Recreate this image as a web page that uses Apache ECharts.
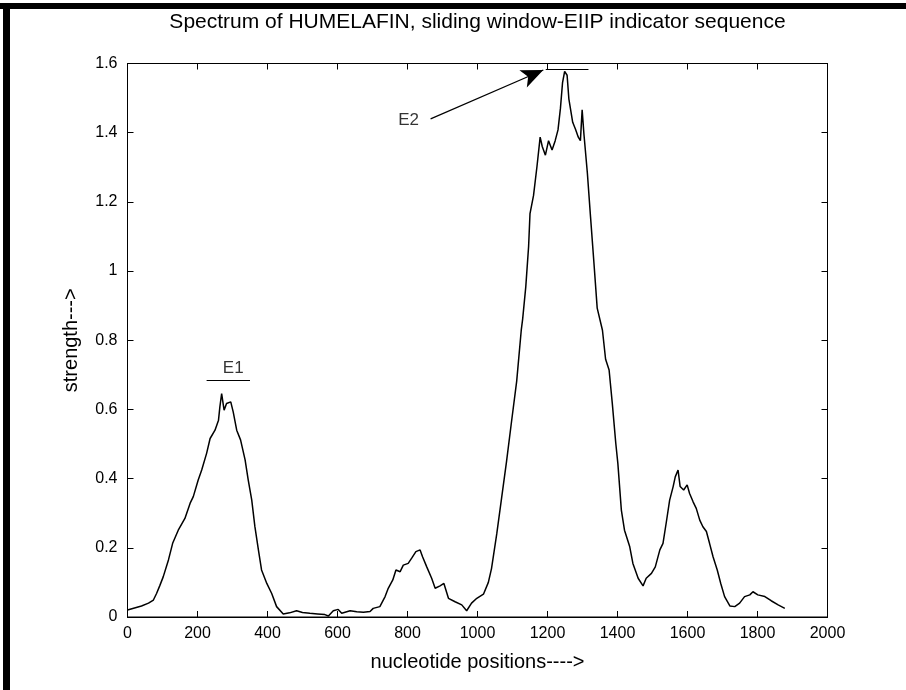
<!DOCTYPE html>
<html>
<head>
<meta charset="utf-8">
<script src="https://cdn.jsdelivr.net/npm/echarts@6/dist/echarts.min.js"></script>
<style>
html,body{margin:0;padding:0;background:#fff;}
#c{width:906px;height:690px;}
</style>
</head>
<body>
<div id="c"></div>
<script>
const positions = [0,20,40,60,74,83,92,102,117,129,145,164,179,188,202,212,226,236,250,260,264,269,276,283,295,302,312,323,336,345,355,364,374,383,398,412,426,445,463,483,500,521,543,564,574,588,602,612,636,655,674,693,702,721,736,745,758,767,779,788,802,812,824,836,843,855,869,879,893,904,917,936,955,969,983,998,1017,1031,1040,1055,1069,1083,1096,1112,1125,1129,1138,1146,1150,1160,1170,1179,1185,1194,1203,1213,1222,1230,1237,1243,1249,1256,1261,1266,1272,1280,1288,1294,1299,1304,1314,1323,1333,1342,1357,1366,1376,1385,1395,1401,1411,1420,1435,1444,1459,1473,1482,1497,1508,1521,1530,1539,1549,1559,1565,1573,1579,1589,1599,1606,1616,1625,1635,1644,1654,1663,1673,1685,1695,1706,1721,1735,1749,1763,1778,1787,1801,1821,1839,1859,1878];
const strength = [0.02,0.026,0.032,0.04,0.049,0.068,0.09,0.116,0.165,0.213,0.251,0.285,0.329,0.348,0.396,0.425,0.473,0.516,0.54,0.569,0.608,0.646,0.598,0.617,0.622,0.593,0.54,0.512,0.454,0.396,0.338,0.261,0.194,0.136,0.097,0.068,0.03,0.009,0.012,0.018,0.013,0.011,0.009,0.007,0.003,0.018,0.022,0.011,0.018,0.015,0.014,0.016,0.025,0.03,0.059,0.083,0.107,0.136,0.131,0.15,0.155,0.17,0.189,0.194,0.174,0.145,0.112,0.083,0.09,0.097,0.054,0.044,0.035,0.018,0.04,0.054,0.066,0.1,0.14,0.24,0.345,0.45,0.555,0.682,0.829,0.861,0.955,1.071,1.166,1.218,1.303,1.387,1.36,1.335,1.377,1.35,1.377,1.408,1.471,1.545,1.577,1.566,1.498,1.5,1.43,1.41,1.387,1.377,1.466,1.397,1.282,1.156,1.019,0.893,0.829,0.745,0.714,0.619,0.503,0.444,0.309,0.251,0.203,0.155,0.112,0.09,0.112,0.126,0.145,0.194,0.213,0.271,0.338,0.377,0.405,0.425,0.377,0.367,0.382,0.357,0.333,0.314,0.28,0.261,0.247,0.213,0.174,0.136,0.097,0.059,0.032,0.03,0.04,0.059,0.064,0.073,0.064,0.059,0.047,0.035,0.025];

const titleText = 'Spectrum of HUMELAFIN, sliding window-EIIP indicator sequence';
const xName = 'nucleotide positions---->';
const yName = 'strength--->';
const labels = ['E1','E2'];
const labelPos = [[302,0.719],[803,1.436]];
const e1Bar = [[226,0.685],[350,0.685]];
const e2Bar = [[1195,1.583],[1317,1.583]];
const e2Arrow = [[866,1.44],[1188,1.581]];

const FONT = 'Liberation Sans';
const chart = echarts.init(document.getElementById('c'), null, {renderer:'canvas'});
function axLine(){ return {show:true, onZero:false, lineStyle:{color:'#000', width:1}}; }
function axTick(){ return {show:true, inside:true, length:6, lineStyle:{color:'#000', width:1}}; }
function lbl(m){ return {show:true, margin:m, color:'#000', fontFamily:FONT, fontSize:16, formatter:v=>String(+v.toFixed(2))}; }
chart.setOption({
  backgroundColor:'#fff',
  animation:false,
  grid:{left:127.5, right:78.5, top:63.5, bottom:73, show:true, borderColor:'#000', borderWidth:1, backgroundColor:'transparent'},
  xAxis:[
    {type:'value', gridIndex:0, min:0, max:2000, interval:200, position:'bottom', axisLine:axLine(), axisTick:axTick(), splitLine:{show:false},
     axisLabel:lbl(9), name:xName, nameLocation:'middle', nameGap:35,
     nameTextStyle:{fontFamily:FONT, fontSize:20, color:'#000'}},
    {type:'value', gridIndex:0, min:0, max:2000, interval:200, position:'top', axisLine:axLine(), axisTick:axTick(), splitLine:{show:false}, axisLabel:{show:false}}
  ],
  yAxis:[
    {type:'value', gridIndex:0, min:0, max:1.6, interval:0.2, position:'left', axisLine:axLine(), axisTick:axTick(), splitLine:{show:false},
     axisLabel:lbl(10), name:yName, nameLocation:'middle', nameGap:46,
     nameTextStyle:{fontFamily:FONT, fontSize:20, color:'#000'}},
    {type:'value', gridIndex:0, min:0, max:1.6, interval:0.2, position:'right', axisLine:axLine(), axisTick:axTick(), splitLine:{show:false}, axisLabel:{show:false}}
  ],
  series:[
    {type:'line', xAxisIndex:0, yAxisIndex:0, data:positions.map((p,i)=>[p,strength[i]]), showSymbol:false, symbol:'none',
     lineStyle:{color:'#000', width:1.5}, silent:true,
     markLine:{silent:true, symbol:'none', label:{show:false}, lineStyle:{color:'#000', width:1.2, type:'solid'},
       data:[
         [{coord:e1Bar[0]},{coord:e1Bar[1]}],
         [{coord:e2Bar[0]},{coord:e2Bar[1]}],
         [{coord:e2Arrow[0], symbol:'none'},{coord:e2Arrow[1], symbol:'arrow', symbolSize:[14,22]}]
       ]}},
    {type:'scatter', xAxisIndex:0, yAxisIndex:0, data:labels.map((t,i)=>[labelPos[i][0],labelPos[i][1],t]), symbolSize:0, silent:true,
     label:{show:true, position:'inside', formatter:p=>p.value[2], fontFamily:FONT, fontSize:17, color:'#000'}},
    {type:'line', xAxisIndex:1, yAxisIndex:1, data:[], silent:true}
  ],
  graphic:[
    {type:'text', x:477.5, y:22, style:{text:titleText, fill:'#000', font:'21px "Liberation Sans"', textAlign:'center', textVerticalAlign:'middle'}, z:100},
    {type:'rect', shape:{x:0, y:3, width:906, height:6}, style:{fill:'#000'}, z:100},
    {type:'rect', shape:{x:3, y:3, width:7, height:687}, style:{fill:'#000'}, z:100}
  ]
});
</script>
</body>
</html>
